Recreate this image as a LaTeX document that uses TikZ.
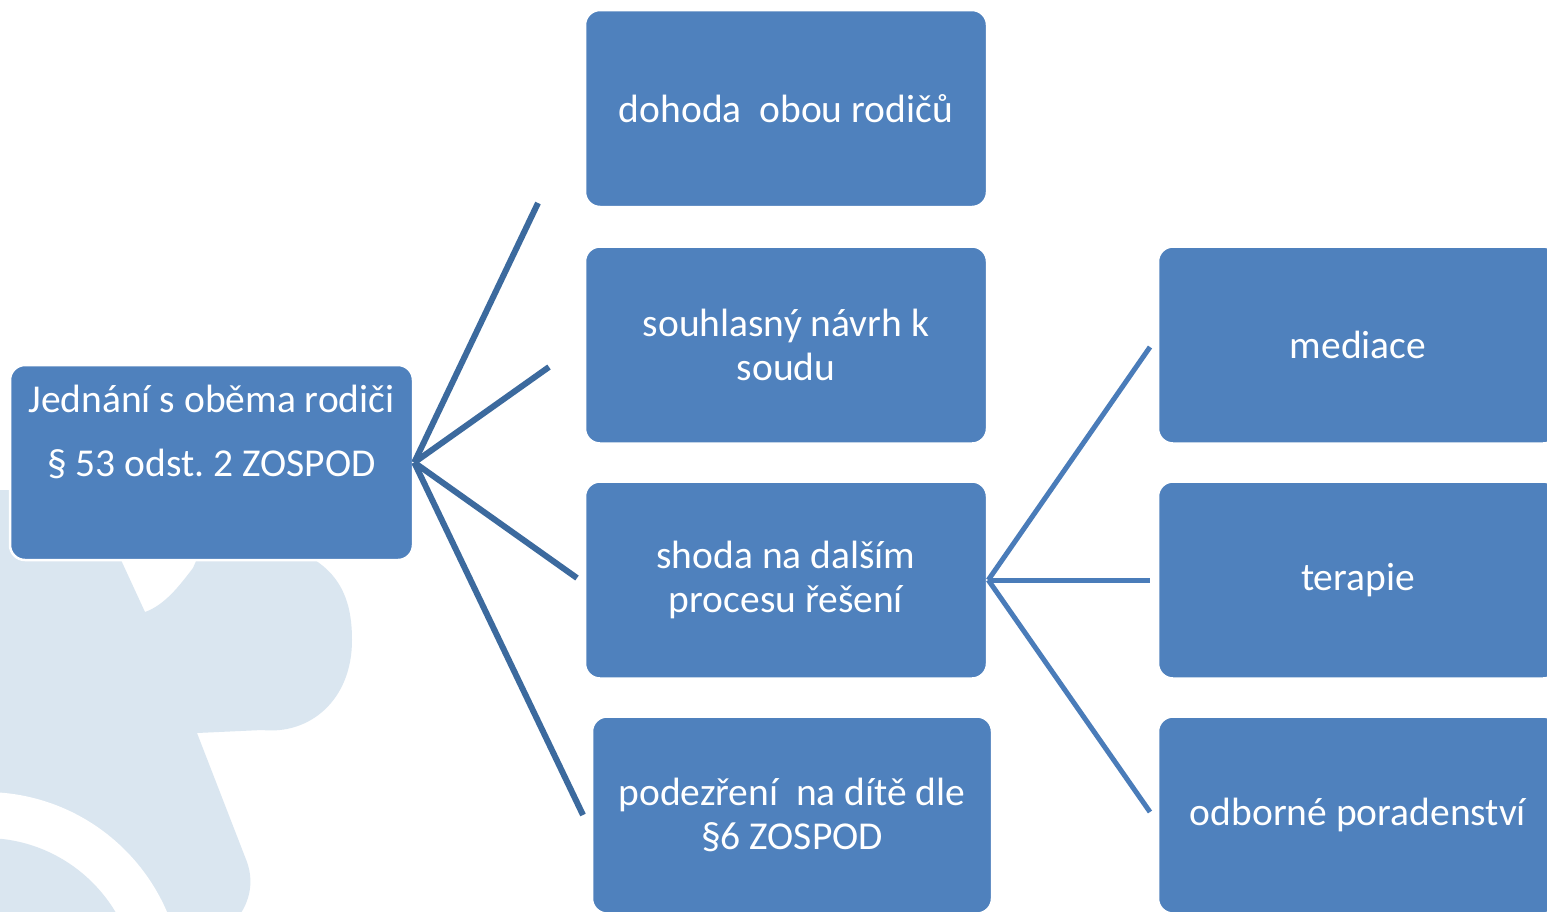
\documentclass[tikz,border=0pt]{standalone}
\usepackage{fontspec}
\setmainfont{Carlito}
\frenchspacing
\definecolor{boxblue}{HTML}{4F81BD}
\definecolor{linkdark}{HTML}{3C6A9E}
\definecolor{linklight}{HTML}{4A7CB9}
\definecolor{bgpiece}{HTML}{DAE6F0}
\tikzset{
  box/.style={rectangle, rounded corners=15pt, fill=boxblue, draw=white, line width=2.5pt,
    text=white, font=\fontsize{39.5}{44}\selectfont, align=center, inner sep=0pt,
    minimum width=402pt, minimum height=197pt},
  linkL/.style={draw=linkdark, line width=6pt},
  linkR/.style={draw=linklight, line width=5pt},
}
\begin{document}
\begin{tikzpicture}[x=1pt,y=-1pt]
\useasboundingbox (0,0) rectangle (1547,911);
\clip (0,0) rectangle (1547,911);
\fill[white] (0,0) rectangle (1547,911);
% background puzzle piece
\fill[bgpiece] (-10,490) -- (121,490) -- (121,560) -- (145,612)
  .. controls (165,605) and (180,585) .. (193,568)
  -- (200,552) -- (300,552)
  .. controls (340,570) and (352,600) .. (352,640)
  .. controls (352,700) and (310,735) .. (262,730)
  -- (197,733) -- (247,862)
  .. controls (255,885) and (248,905) .. (236,920) -- (-10,920) -- cycle;
\fill[white] (-15,990) circle[radius=198];
\fill[bgpiece] (-15,990) circle[radius=152];
% boxes
\node[box, minimum width=403pt, minimum height=195pt, font=\fontsize{39.5}{64}\selectfont]
  (root) at (211.5,462.5) {Jednání s oběma rodiči\\§ 53 odst. 2 ZOSPOD\\\mbox{}};
\node[box] (b1) at (786,108.5) {dohoda\ \ obou rodičů};
\node[box] (b2) at (786,345) {souhlasný návrh k\\soudu};
\node[box] (b3) at (786,580) {shoda na dalším\\procesu řešení};
\node[box, minimum width=400pt] (b4) at (792,815) {podezření\ \ na dítě dle\\§6 ZOSPOD};
\node[box, minimum width=400pt] (c1) at (1358,345) {mediace};
\node[box, minimum width=400pt] (c2) at (1358,580) {terapie};
\node[box, minimum width=400pt] (c3) at (1358,815) {odborné poradenství};
% connector ends
\coordinate (e1) at (538,203);
\coordinate (e2) at (549,367);
\coordinate (e3) at (577,578);
\coordinate (e4) at (583,815);
\coordinate (f1) at (1150,347);
\coordinate (f2) at (1150,580);
\coordinate (f3) at (1150,812);
\draw[linkL] (root.east) -- (e1);
\draw[linkL] (root.east) -- (e2);
\draw[linkL] (root.east) -- (e3);
\draw[linkL] (root.east) -- (e4);
\draw[linkR] (b3.east) -- (f1);
\draw[linkR] (b3.east) -- (f2);
\draw[linkR] (b3.east) -- (f3);
\end{tikzpicture}
\end{document}
